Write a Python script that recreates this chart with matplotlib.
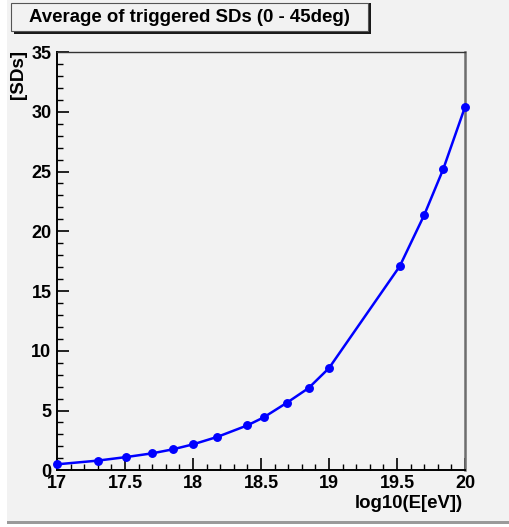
import matplotlib
matplotlib.use("Agg")
import matplotlib.pyplot as plt
from matplotlib.patches import Rectangle
from matplotlib.ticker import MultipleLocator

# Data
log_energy = [17.0, 17.30, 17.51, 17.70, 17.85, 18.0, 18.18, 18.40, 18.52,
              18.69, 18.85, 19.0, 19.52, 19.70, 19.84, 20.0]
avg_sds = [0.5, 0.81, 1.11, 1.42, 1.75, 2.17, 2.8, 3.76, 4.43,
           5.65, 6.88, 8.55, 17.07, 21.36, 25.2, 30.4]
title = "Average of triggered SDs (0 - 45deg)"
xlabel = "log10(E[eV])"
ylabel = "[SDs]"

plt.rcParams['font.family'] = ['Liberation Sans', 'DejaVu Sans']
plt.rcParams['font.weight'] = 'bold'

W, H = 510, 527
fig = plt.figure(figsize=(W / 100, H / 100), dpi=100, facecolor='white')
bg = '#f2f2f2'

def fx(px):
    return px / W

def fy(py):
    return 1 - py / H

# canvas panel
fig.patches.append(Rectangle((fx(7), fy(521)), fx(503), 521 / H, transform=fig.transFigure,
                             facecolor=bg, edgecolor='none', zorder=-10))
fig.patches.append(Rectangle((fx(7), fy(523.5)), fx(503), 2.5 / H, transform=fig.transFigure,
                             facecolor='#9a9a9a', edgecolor='none', zorder=-10))

ax = fig.add_axes([fx(57), fy(470.3), fx(408), (470.3 - 52) / H])
ax.set_zorder(1)
ax.set_facecolor(bg)
ax.plot(log_energy, avg_sds, color='#0000ff', lw=1.8, marker='o', ms=5.4,
        mec='#0000ff', mfc='#0000ff', clip_on=False, zorder=5)
ax.set_xlim(17, 20)
ax.set_ylim(0, 35)

ax.xaxis.set_major_locator(MultipleLocator(0.5))
ax.xaxis.set_minor_locator(MultipleLocator(0.1))
ax.yaxis.set_major_locator(MultipleLocator(5))
ax.yaxis.set_minor_locator(MultipleLocator(1))
ax.set_xticks([17, 17.5, 18, 18.5, 19, 19.5, 20])
ax.set_xticklabels(['17', '17.5', '18', '18.5', '19', '19.5', '20'])
ax.tick_params(axis='both', which='both', direction='in', top=False, right=False,
               labelsize=13, colors='black')
ax.tick_params(axis='both', which='major', length=8.5, width=1.2)
ax.tick_params(axis='both', which='minor', length=4.3, width=1.0)
ax.tick_params(axis='x', which='major', pad=3.5)
ax.tick_params(axis='y', which='major', pad=4)
for lab in ax.get_xticklabels() + ax.get_yticklabels():
    lab.set_fontweight('bold')

for s in ['left', 'bottom']:
    ax.spines[s].set_color('black')
    ax.spines[s].set_linewidth(1.4)
ax.spines['top'].set_color('#333333')
ax.spines['top'].set_linewidth(1.0)
ax.spines['right'].set_color('#6e6e6e')
ax.spines['right'].set_linewidth(1.8)

fig.text(fx(463), fy(508), xlabel, ha='right', va='baseline', fontsize=13.4,
         fontweight='bold')
fig.text(fx(19), fy(50), ylabel, ha='center', va='top', rotation=90, fontsize=13.6,
         fontweight='bold')

# title box with shadow
fig.patches.append(Rectangle((fx(14), fy(33.7)), fx(357), 31 / H, transform=fig.transFigure,
                             facecolor='#1a1a1a', edgecolor='none', zorder=2))
fig.patches.append(Rectangle((fx(11), fy(30.7)), fx(357), 28 / H, transform=fig.transFigure,
                             facecolor=bg, edgecolor='#555555', lw=0.8, zorder=3))
fig.text(fx(189.5), fy(17), title, ha='center', va='center', fontsize=13.4,
         fontweight='bold', zorder=4)

fig.savefig('out.png', dpi=100, facecolor='white')
